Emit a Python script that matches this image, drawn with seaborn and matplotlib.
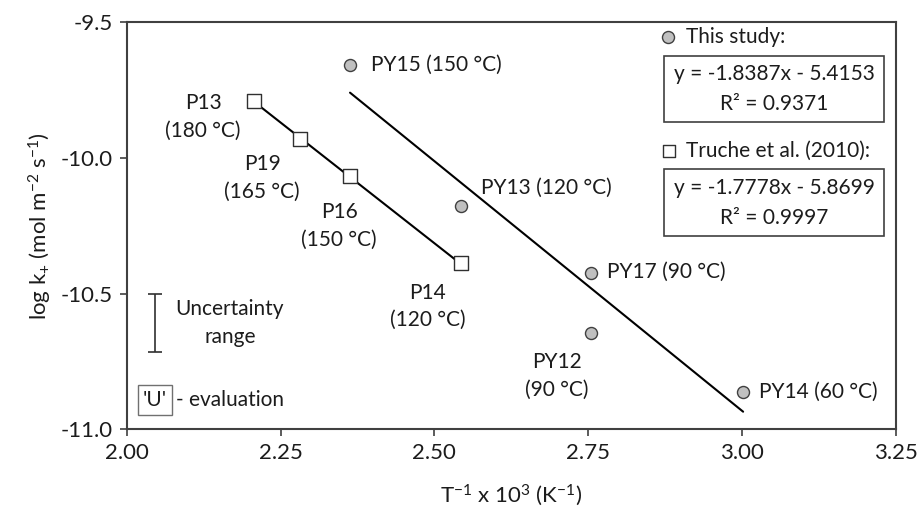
import matplotlib
matplotlib.use("Agg")
import matplotlib.pyplot as plt
import numpy as np
import pandas as pd
import seaborn as sns

# Experimental points (this study)
study_x = [2.363, 2.544, 2.754, 2.754, 3.002]
study_y = [-9.658, -10.178, -10.424, -10.645, -10.863]
study_labels = ["PY15 (150 °C)", "PY13 (120 °C)", "PY17 (90 °C)", "PY12\n(90 °C)", "PY14 (60 °C)"]

# Literature points (Truche et al. 2010)
truche_x = [2.207, 2.282, 2.363, 2.544]
truche_y = [-9.791, -9.931, -10.067, -10.388]
truche_labels = ["P13\n(180 °C)", "P19\n(165 °C)", "P16\n(150 °C)", "P14\n(120 °C)"]

# Linear fits: slope, intercept, R²
study_fit = (-1.8387, -5.4153, 0.9371)
truche_fit = (-1.7778, -5.8699, 0.9997)

# Uncertainty range indicator (x, y_top, y_bottom)
uncert = (2.046, -10.5, -10.715)

x_ticks = [2.00, 2.25, 2.50, 2.75, 3.00, 3.25]
y_ticks = [-9.5, -10.0, -10.5, -11.0]

sns.set_theme(style="white")
FONT = "Lato"
plt.rcParams["font.family"] = [FONT, "DejaVu Sans"]
plt.rcParams["mathtext.fontset"] = "custom"
plt.rcParams["mathtext.rm"] = FONT
plt.rcParams["mathtext.it"] = FONT
plt.rcParams["mathtext.bf"] = FONT
plt.rcParams["mathtext.sf"] = FONT

TXT = "#1c1c1c"
AX = "#404040"
FS = 15
FS_TICK = 16
FS_LAB = 16

fig = plt.figure(figsize=(9.21, 5.17), dpi=100)
ax = fig.add_axes([0.1376, 0.1696, 0.8349, 0.7878])

study = pd.DataFrame({"x": study_x, "y": study_y})
truche = pd.DataFrame({"x": truche_x, "y": truche_y})


def fit_frame(xs, fit):
    xr = np.array([min(xs), max(xs)])
    return pd.DataFrame({"x": xr, "y": fit[0] * xr + fit[1]})


sns.lineplot(data=fit_frame(study_x, study_fit), x="x", y="y", color="black",
             linewidth=1.5, ax=ax, zorder=2)
sns.lineplot(data=fit_frame(truche_x, truche_fit), x="x", y="y", color="black",
             linewidth=1.5, ax=ax, zorder=2)

sns.scatterplot(data=study, x="x", y="y", marker="o", s=75, color="#c0c0c0",
                edgecolor="#404040", linewidth=1.0, ax=ax, zorder=3)
sns.scatterplot(data=truche, x="x", y="y", marker="s", s=95, color="white",
                edgecolor="#303030", linewidth=1.0, ax=ax, zorder=3)

# Point annotations: (dx, dy) offsets in pixels and alignment
study_offsets = [(21, 0, "left"), (20, 18, "left"), (16, 1, "left"),
                 (-34, -43, "center"), (16, 0, "left")]
truche_offsets = [(-51, -16, "center"), (-38, -39, "center"),
                  (-11, -50, "center"), (-34, -43, "center")]

for xs, ys, labels, offs in [(study_x, study_y, study_labels, study_offsets),
                             (truche_x, truche_y, truche_labels, truche_offsets)]:
    for xv, yv, lab, (dx, dy, ha) in zip(xs, ys, labels, offs):
        ax.annotate(lab, (xv, yv), xytext=(dx, dy), textcoords="offset pixels",
                    ha=ha, va="center", fontsize=FS, color=TXT, linespacing=1.45)

# Legend-like keys with fit equations
ax.scatter([0.704], [0.963], transform=ax.transAxes, marker="o", s=75,
           color="#c0c0c0", edgecolor="#404040", linewidth=1.0, clip_on=False, zorder=4)
ax.text(0.727, 0.963, "This study:", transform=ax.transAxes, ha="left", va="center",
        fontsize=FS, color=TXT)
ax.scatter([0.705], [0.684], transform=ax.transAxes, marker="s", s=80,
           color="white", edgecolor="#303030", linewidth=1.0, clip_on=False, zorder=4)
ax.text(0.727, 0.684, "Truche et al. (2010):", transform=ax.transAxes, ha="left",
        va="center", fontsize=FS, color=TXT)

for (y0, y1), fit in [((0.754, 0.917), study_fit), ((0.474, 0.639), truche_fit)]:
    rect = plt.Rectangle((0.699, y0), 0.286, y1 - y0, transform=ax.transAxes,
                         fill=False, edgecolor=AX, linewidth=1.2)
    ax.add_patch(rect)
    eq = f"y = {fit[0]:.4f}x - {abs(fit[1]):.4f}"
    ax.text(0.842, y0 + (y1 - y0) * 0.72, eq, transform=ax.transAxes, ha="center",
            va="center", fontsize=FS, color=TXT)
    ax.text(0.842, y0 + (y1 - y0) * 0.27, f"R² = {fit[2]:.4f}", transform=ax.transAxes,
            ha="center", va="center", fontsize=FS, color=TXT)

# Uncertainty range key
ux, utop, ubot = uncert
ax.errorbar([ux], [(utop + ubot) / 2], yerr=[(utop - ubot) / 2], fmt="none",
            ecolor="#303030", elinewidth=1.2, capsize=5, capthick=1.2)
ax.text(0.134, 0.261, "Uncertainty\nrange", transform=ax.transAxes, ha="center",
        va="center", fontsize=FS, color=TXT, linespacing=1.45)

# 'U' evaluation key
ax.text(0.0368, 0.072, "'U'", transform=ax.transAxes, ha="center", va="center",
        fontsize=FS, color=TXT,
        bbox=dict(boxstyle="square,pad=0.22", facecolor="white", edgecolor="#707070",
                  linewidth=1.0))
ax.text(0.0640, 0.072, "- evaluation", transform=ax.transAxes, ha="left", va="center",
        fontsize=FS, color=TXT)

ax.set_xlim(2.0, 3.25)
ax.set_ylim(-11.0, -9.5)
ax.set_xticks(x_ticks)
ax.set_xticklabels([f"{t:.2f}" for t in x_ticks])
ax.set_yticks(y_ticks)
ax.set_yticklabels([f"{t:.1f}" for t in y_ticks])
ax.tick_params(axis="both", direction="out", length=5, width=1.2, color=AX,
               labelsize=FS_TICK, labelcolor=TXT, pad=5)
ax.tick_params(bottom=True, left=True)

for sp in ax.spines.values():
    sp.set_visible(True)
    sp.set_color(AX)
    sp.set_linewidth(1.5)

ax.set_xlabel(r"T$^{-1}$ x 10$^{3}$ (K$^{-1}$)", fontsize=FS_LAB, color=TXT, labelpad=14)
ax.set_ylabel(r"log k$_{+}$ (mol m$^{-2}$ s$^{-1}$)", fontsize=FS_LAB, color=TXT, labelpad=5)

fig.savefig("out.png", dpi=100)
